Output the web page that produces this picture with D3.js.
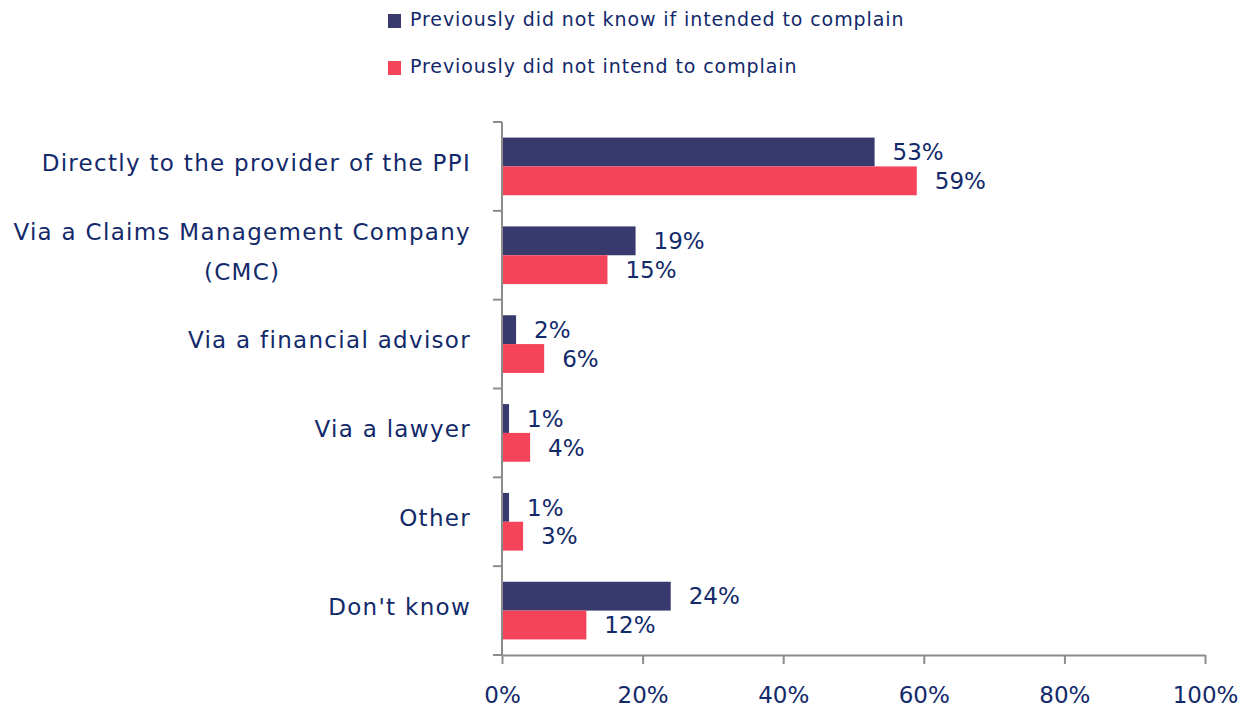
<!DOCTYPE html>
<html>
<head>
<meta charset="utf-8">
<script src="https://cdn.jsdelivr.net/npm/d3@7"></script>
<style>
  html, body { margin: 0; padding: 0; background: #ffffff; }
  svg { display: block; font-family: "DejaVu Sans", Verdana, sans-serif; }
</style>
</head>
<body>
<svg id="chart" width="1252" height="711"></svg>
<script>
// Complaint channel, by prior intention to complain
const categories = [
  ["Directly to the provider of the PPI"],
  ["Via a Claims Management Company", "(CMC)"],
  ["Via a financial advisor"],
  ["Via a lawyer"],
  ["Other"],
  ["Don't know"]
];
const seriesNames = [
  "Previously did not know if intended to complain",
  "Previously did not intend to complain"
];
const didNotKnow = [53, 19, 2, 1, 1, 24];
const didNotIntend = [59, 15, 6, 4, 3, 12];
const xTicks = [0, 20, 40, 60, 80, 100];
const colors = ["#383a6e", "#f5435a"];

const textColor = "#12296a";
const axisColor = "#8c8c8c";

const svg = d3.select("#chart");
const margin = { left: 502, right: 47, top: 122, bottom: 56 };
const W = 1252, H = 711;

const keys = categories.map((c, i) => i);
const series = [didNotKnow, didNotIntend];

const x = d3.scaleLinear().domain([0, 100]).range([margin.left, W - margin.right]);
const y = d3.scaleBand().domain(keys).range([margin.top, H - margin.bottom]).paddingInner(0).paddingOuter(0);
const inner = d3.scaleBand().domain([0, 1]).range([0, y.bandwidth()]).paddingInner(0).paddingOuter(0.54);

// Bars
const groups = svg.append("g").selectAll("g")
  .data(keys).join("g")
  .attr("transform", d => `translate(0,${y(d)})`);

groups.selectAll("rect")
  .data(k => series.map((s, si) => ({ si, v: s[k] })))
  .join("rect")
  .attr("x", x(0))
  .attr("y", d => inner(d.si))
  .attr("width", d => x(d.v) - x(0))
  .attr("height", inner.bandwidth())
  .attr("fill", d => colors[d.si]);

// Value labels
groups.selectAll("text")
  .data(k => series.map((s, si) => ({ si, v: s[k] })))
  .join("text")
  .attr("x", d => x(d.v) + 18)
  .attr("y", d => inner(d.si) + inner.bandwidth() / 2)
  .attr("dy", "0.36em")
  .attr("fill", textColor)
  .attr("font-size", 23)
  .text(d => d.v + "%");

// Y axis (category boundaries)
const yAxisG = svg.append("g");
yAxisG.append("line")
  .attr("x1", x(0)).attr("x2", x(0))
  .attr("y1", margin.top).attr("y2", H - margin.bottom)
  .attr("stroke", axisColor).attr("stroke-width", 2);
const bounds = keys.map(k => y(k)).concat([H - margin.bottom]);
yAxisG.selectAll("line.tick")
  .data(bounds).join("line")
  .attr("class", "tick")
  .attr("x1", x(0) - 9).attr("x2", x(0))
  .attr("y1", d => d).attr("y2", d => d)
  .attr("stroke", axisColor).attr("stroke-width", 2);

// Category labels, right aligned; wrapped lines centred on each other
const labelRight = 471;
const catG = svg.append("g").attr("fill", textColor).attr("font-size", 23)
  .attr("letter-spacing", 1.3);
keys.forEach(k => {
  const lines = categories[k];
  const cy = y(k) + y.bandwidth() / 2;
  const lh = 40;
  if (lines.length === 1) {
    catG.append("text")
      .attr("x", labelRight).attr("y", cy).attr("dy", "0.19em")
      .attr("text-anchor", "end").text(lines[0]);
  } else {
    const texts = lines.map((l, i) => catG.append("text")
      .attr("y", cy + (i - (lines.length - 1) / 2) * lh).attr("dy", "0.19em")
      .attr("text-anchor", "middle").text(l));
    const maxW = d3.max(texts, t => t.node().getComputedTextLength());
    texts.forEach(t => t.attr("x", labelRight - maxW / 2));
  }
});

// X axis
const xAxis = d3.axisBottom(x).tickValues(xTicks).tickSize(9).tickSizeOuter(0)
  .tickFormat(d => d + "%");
const xg = svg.append("g")
  .attr("transform", `translate(0,${H - margin.bottom})`)
  .call(xAxis);
xg.select(".domain").attr("stroke", axisColor).attr("stroke-width", 2);
xg.selectAll(".tick line").attr("stroke", axisColor).attr("stroke-width", 2);
xg.selectAll(".tick text")
  .attr("fill", textColor)
  .attr("font-size", 23)
  .attr("font-family", "DejaVu Sans, Verdana, sans-serif")
  .attr("y", 40)
  .attr("dy", "0.36em");

// Legend
const legend = svg.append("g").attr("transform", "translate(388,0)");
seriesNames.forEach((name, i) => {
  const g = legend.append("g").attr("transform", `translate(0,${20 + i * 47})`);
  g.append("rect").attr("x", 0).attr("y", -6).attr("width", 13).attr("height", 14)
    .attr("fill", colors[i]);
  g.append("text").attr("x", 22).attr("y", 0).attr("dy", "0.3em")
    .attr("fill", textColor).attr("font-size", 19).attr("letter-spacing", 0.9)
    .text(name);
});
</script>
</body>
</html>
